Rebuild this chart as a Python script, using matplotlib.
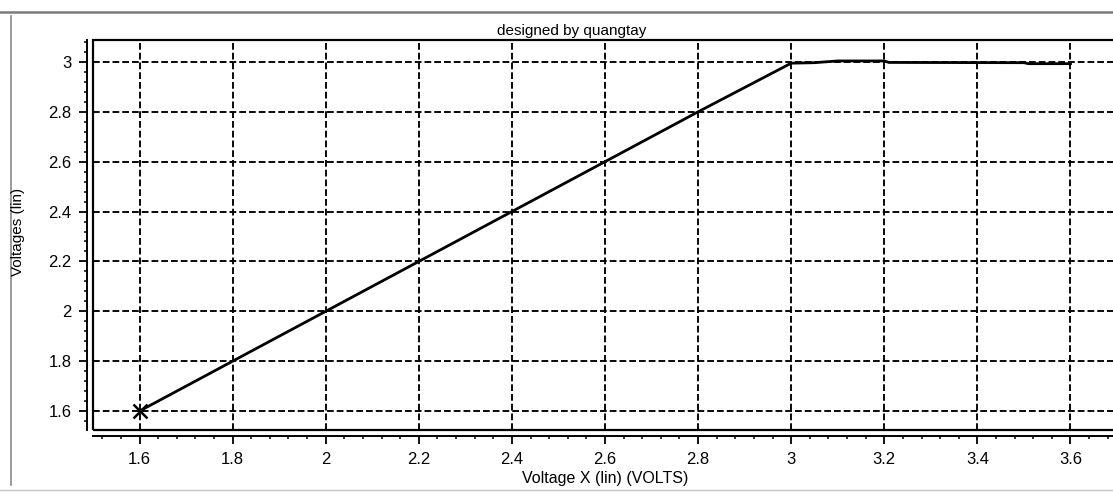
import numpy as np
import matplotlib
matplotlib.use("Agg")
from matplotlib import pyplot as plt
from matplotlib import font_manager
from matplotlib.ticker import MultipleLocator, FormatStrFormatter
from matplotlib.lines import Line2D
from matplotlib.patches import Rectangle

# sweep data
voltage_x = [1.6, 2.0, 2.4, 2.8, 3.0, 3.05, 3.1, 3.2, 3.21, 3.5, 3.51, 3.6]
voltages = [1.6, 2.0, 2.4, 2.8, 2.995, 2.997, 3.004, 3.004, 2.998, 2.997, 2.993, 2.993]

x_ticks = [1.6, 1.8, 2.0, 2.2, 2.4, 2.6, 2.8, 3.0, 3.2, 3.4, 3.6]
y_ticks = [1.6, 1.8, 2.0, 2.2, 2.4, 2.6, 2.8, 3.0]

title_text = "designed by quangtay"
x_label = "Voltage X (lin) (VOLTS)"
y_label = "Voltages (lin)"

# pick a narrow font for the tick numbers if we have one
installed = {f.name for f in font_manager.fontManager.ttflist}
tick_font = "Liberation Sans Narrow" if "Liberation Sans Narrow" in installed else "Liberation Sans"
tick_size = 13 if tick_font == "Liberation Sans Narrow" else 12
plt.rcParams["font.family"] = ["Liberation Sans", "DejaVu Sans"]

fig = plt.figure(figsize=(11.13, 4.95), dpi=100)
ax = fig.add_axes([93 / 1113, 65 / 495, 1024 / 1113, 390 / 495])

# grid
dash = (0, (3.6, 1.6))
for xv in x_ticks:
    ax.axvline(xv, color="black", lw=1.35, ls=dash, zorder=1)
for yv in y_ticks:
    ax.axhline(yv, color="black", lw=1.35, ls=dash, zorder=1)

ax.plot(voltage_x, voltages, color="black", lw=2.0, zorder=3)
ax.plot(voltage_x[0], voltages[0], marker="x", ms=10, mew=1.8, color="black", zorder=4)

ax.set_xlim(1.5, 3.7)
ax.set_ylim(1.524, 3.088)

# frame around the plotting area, axis lines pulled away from it
ax.add_patch(Rectangle((0, 0), 1, 1, transform=ax.transAxes, fill=False,
                       edgecolor="black", lw=1.6, clip_on=False, zorder=5))
for side in ["top", "right"]:
    ax.spines[side].set_visible(False)
for side in ["left", "bottom"]:
    ax.spines[side].set_position(("outward", 4.5))
    ax.spines[side].set_linewidth(1.4)

ax.xaxis.set_major_locator(MultipleLocator(0.2))
ax.xaxis.set_minor_locator(MultipleLocator(0.04))
ax.yaxis.set_major_locator(MultipleLocator(0.2))
ax.yaxis.set_minor_locator(MultipleLocator(0.04))
ax.xaxis.set_major_formatter(FormatStrFormatter("%g"))
ax.yaxis.set_major_formatter(FormatStrFormatter("%g"))
ax.tick_params(axis="both", which="major", direction="out", length=6, width=1.3, pad=5)
ax.tick_params(axis="both", which="minor", direction="out", length=2.5, width=1.1)
for lab in ax.get_xticklabels() + ax.get_yticklabels():
    lab.set_fontfamily(tick_font)
    lab.set_fontsize(tick_size)

fig.text(572 / 1113, 1 - 31 / 495, title_text, ha="center", va="center", fontsize=11)
fig.text(605 / 1113, 1 - 478 / 495, x_label, ha="center", va="center", fontsize=11.5)
fig.text(18 / 1113, 1 - 232 / 495, y_label, ha="center", va="center", rotation=90, fontsize=11)

# scanned window border
fig.add_artist(Line2D([0.0, 1.0], [1 - 12 / 495, 1 - 12 / 495], color="#7a7a7a", lw=1.8))
fig.add_artist(Line2D([11 / 1113, 11 / 1113], [1 - 16 / 495, 1 - 485 / 495], color="#8a8a8a", lw=1.2))
fig.add_artist(Line2D([0.0, 1.0], [1 - 490 / 495, 1 - 490 / 495], color="#c4c4c4", lw=1.0))

fig.savefig("out.png", dpi=100)
